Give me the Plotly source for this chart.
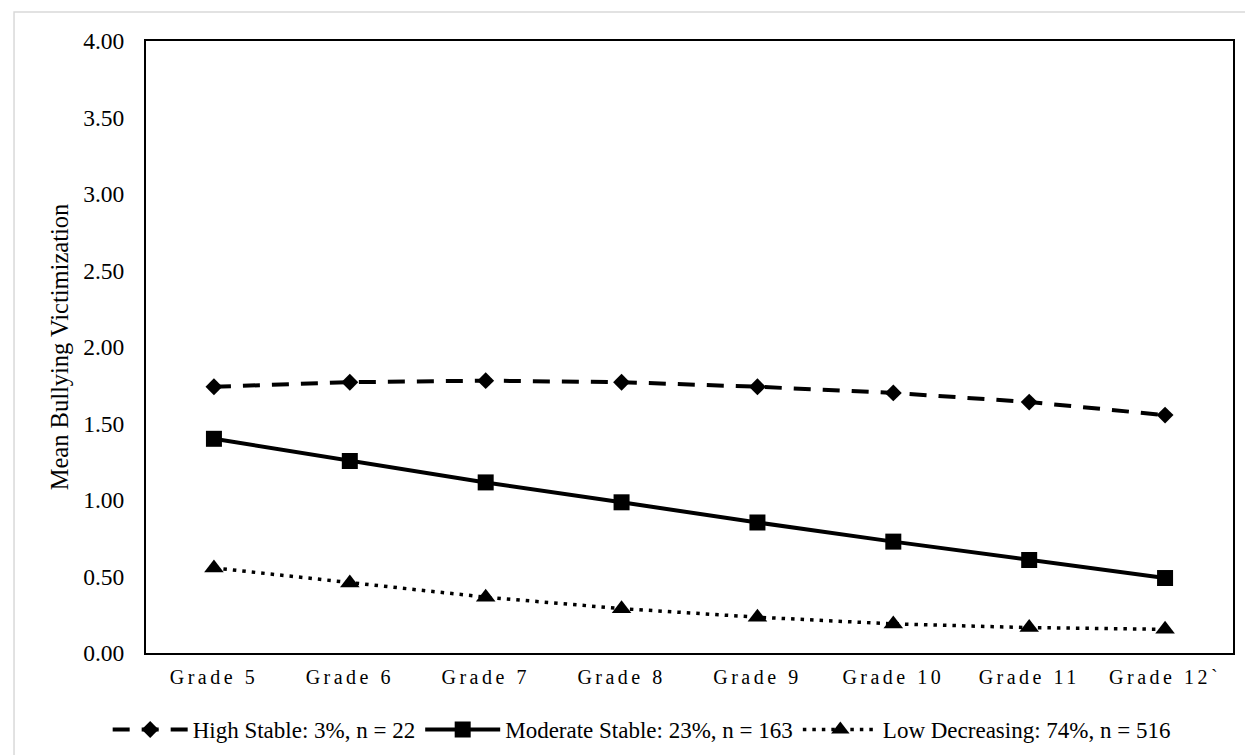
import plotly.graph_objects as go

grades = ["Grade 5", "Grade 6", "Grade 7", "Grade 8", "Grade 9", "Grade 10", "Grade 11", "Grade 12`"]
high_stable = [1.74, 1.77, 1.78, 1.77, 1.74, 1.70, 1.64, 1.555]
moderate_stable = [1.40, 1.255, 1.115, 0.985, 0.853, 0.728, 0.608, 0.49]
low_decreasing = [0.556, 0.458, 0.365, 0.29, 0.234, 0.19, 0.166, 0.155]
y_ticks = [0, 0.5, 1.0, 1.5, 2.0, 2.5, 3.0, 3.5, 4.0]

FONT = "Liberation Serif, Times New Roman, serif"

fig = go.Figure()
fig.add_trace(go.Scatter(
    x=grades, y=high_stable, mode="lines+markers",
    name="High Stable: 3%, n = 22",
    line=dict(color="black", width=4, dash="17px,12px"),
    marker=dict(symbol="diamond", size=13, color="black"),
))
fig.add_trace(go.Scatter(
    x=grades, y=moderate_stable, mode="lines+markers",
    name="Moderate Stable: 23%, n = 163",
    line=dict(color="black", width=4),
    marker=dict(symbol="square", size=16, color="black"),
))
fig.add_trace(go.Scatter(
    x=grades, y=low_decreasing, mode="lines+markers",
    name="Low Decreasing: 74%, n = 516",
    line=dict(color="black", width=3.5, dash="3.5px,6px"),
    marker=dict(symbol="triangle-up", size=17, color="black"),
))

ticktext = ['<span style="letter-spacing:3.5px">%s</span>' % g for g in grades]

fig.update_layout(
    width=1253, height=755,
    margin=dict(l=138, r=28, t=33, b=108),
    paper_bgcolor="white", plot_bgcolor="white",
    font=dict(family=FONT, size=23, color="black"),
    showlegend=True,
    legend=dict(orientation="h", x=0.456, xanchor="center", y=-0.125, yanchor="middle",
                font=dict(family=FONT, size=23, color="black"),
                itemwidth=75, traceorder="normal", bgcolor="rgba(0,0,0,0)"),
    xaxis=dict(
        type="category", tickmode="array", tickvals=grades, ticktext=ticktext,
        showline=True, linecolor="black", linewidth=2, mirror=True,
        showgrid=False, ticks="", tickfont=dict(family=FONT, size=20),
        ticklabelstandoff=5,
        range=[-0.5, 7.5], zeroline=False,
    ),
    yaxis=dict(
        range=[0, 4], tickmode="array", tickvals=y_ticks, tickformat=".2f",
        showline=True, linecolor="black", linewidth=2, mirror=True,
        showgrid=False, ticks="", ticklabelstandoff=15, zeroline=False,
        tickfont=dict(family=FONT, size=23.5),
        title=dict(text="Mean Bullying Victimization", font=dict(family=FONT, size=24.5), standoff=8),
    ),
    shapes=[dict(type="rect", xref="paper", yref="paper",
                 x0=-0.1214, x1=1.05, y0=-0.2, y1=1.0472,
                 line=dict(color="#d9d9d9", width=1.5), layer="below")],
)

fig.write_html("out.html")
